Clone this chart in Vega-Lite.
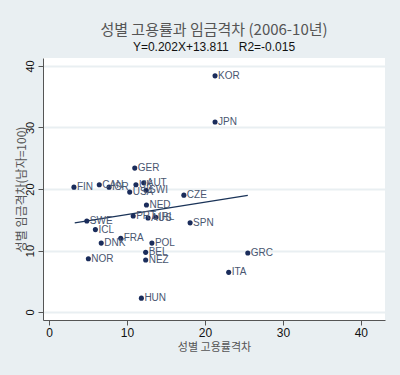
{
  "$schema": "https://vega.github.io/schema/vega-lite/v6.json",
  "width": 342,
  "height": 262,
  "autosize": "none",
  "padding": {"left": 43, "top": 58, "right": 15, "bottom": 55},
  "background": "#e9eff2",
  "view": {"fill": "white", "stroke": null},
  "title": {
    "text": "성별 고용률과 임금격차 (2006-10년)",
    "subtitle": "Y=0.202X+13.811\u00a0\u00a0\u00a0R2=-0.015",
    "font": "Noto Sans CJK KR",
    "fontSize": 15,
    "fontWeight": "normal",
    "color": "#555555",
    "subtitleFont": "Liberation Sans",
    "subtitleFontSize": 12,
    "subtitleColor": "#111111",
    "subtitlePadding": 4,
    "anchor": "middle",
    "offset": 5
  },
  "datasets": {
    "pts": [
      {"country": "KOR", "x": 21.3, "y": 38.4},
      {"country": "JPN", "x": 21.3, "y": 30.9},
      {"country": "GER", "x": 11.0, "y": 23.4},
      {"country": "FIN", "x": 3.2, "y": 20.3},
      {"country": "CAN", "x": 6.45, "y": 20.7},
      {"country": "ISR", "x": 7.7, "y": 20.3},
      {"country": "UK", "x": 11.15, "y": 20.7},
      {"country": "AUT", "x": 12.15, "y": 21.0},
      {"country": "USA", "x": 10.35, "y": 19.5},
      {"country": "SWI", "x": 12.45, "y": 19.8},
      {"country": "NED", "x": 12.5, "y": 17.4},
      {"country": "CZE", "x": 17.3, "y": 19.0},
      {"country": "SWE", "x": 4.85, "y": 14.8},
      {"country": "ICL", "x": 5.95, "y": 13.4},
      {"country": "PRT", "x": 10.8, "y": 15.6},
      {"country": "AUS", "x": 12.7, "y": 15.3},
      {"country": "IRL", "x": 13.7, "y": 15.4},
      {"country": "SPN", "x": 18.1, "y": 14.5},
      {"country": "DNK", "x": 6.7, "y": 11.2},
      {"country": "FRA", "x": 9.2, "y": 12.0},
      {"country": "POL", "x": 13.2, "y": 11.2},
      {"country": "BEL", "x": 12.4, "y": 9.7},
      {"country": "NEZ", "x": 12.4, "y": 8.45},
      {"country": "NOR", "x": 5.05, "y": 8.65},
      {"country": "HUN", "x": 11.85, "y": 2.25},
      {"country": "GRC", "x": 25.5, "y": 9.6},
      {"country": "ITA", "x": 23.05, "y": 6.45}
    ],
    "fit": [
      {"x": 3.3, "y": 14.48},
      {"x": 25.5, "y": 18.96}
    ]
  },
  "encoding": {
    "x": {
      "field": "x", "type": "quantitative",
      "scale": {"domain": [-0.77, 43.1], "nice": false, "zero": false},
      "axis": {
        "values": [0, 10, 20, 30, 40],
        "title": "성별 고용률격차",
        "titleFont": "Noto Sans CJK KR",
        "titleFontSize": 11,
        "titleFontWeight": "normal",
        "titleColor": "#555555",
        "titlePadding": 3,
        "labelFont": "Liberation Sans",
        "labelFontSize": 12,
        "labelColor": "#111111",
        "labelPadding": 2,
        "grid": false,
        "domainColor": "#555555",
        "domainWidth": 1,
        "tickColor": "#555555",
        "tickSize": 5
      }
    },
    "y": {
      "field": "y", "type": "quantitative",
      "scale": {"domain": [-1.3, 41.3], "nice": false, "zero": false},
      "axis": {
        "values": [0, 10, 20, 30, 40],
        "title": "성별 임금격차(남자=100)",
        "titleFont": "Noto Sans CJK KR",
        "titleFontSize": 12,
        "titleFontWeight": "normal",
        "titleColor": "#555555",
        "titlePadding": -4,
        "labelFont": "Liberation Sans",
        "labelFontSize": 11,
        "labelColor": "#111111",
        "labelAngle": -90,
        "labelAlign": "center",
        "labelBaseline": "bottom",
        "labelPadding": 3,
        "grid": true,
        "gridColor": "#e9eff2",
        "gridWidth": 2,
        "domainColor": "#555555",
        "domainWidth": 1,
        "tickColor": "#555555",
        "tickSize": 5
      }
    }
  },
  "layer": [
    {
      "data": {"name": "fit"},
      "mark": {"type": "line", "color": "#1a3358", "strokeWidth": 1.3}
    },
    {
      "data": {"name": "pts"},
      "mark": {"type": "circle", "size": 26, "opacity": 1, "color": "#1a2c5b"}
    },
    {
      "data": {"name": "pts"},
      "mark": {"type": "text", "align": "left", "baseline": "middle", "dx": 3, "font": "Liberation Sans", "fontSize": 10, "color": "#4a5670"},
      "encoding": {"text": {"field": "country"}}
    }
  ]
}
